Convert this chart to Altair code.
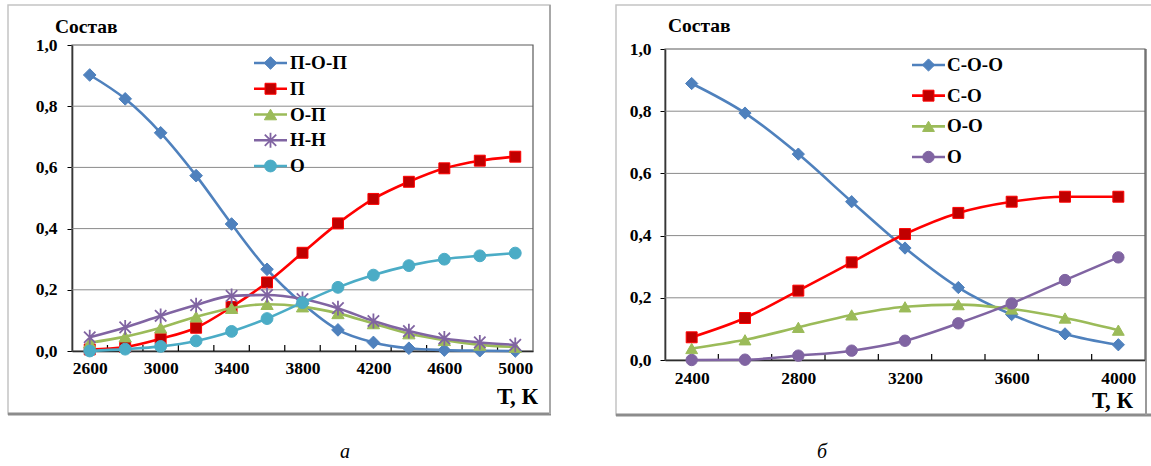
import altair as alt
import pandas as pd

SERIF = "Liberation Serif"
W, H = 1151, 466

# ---------------- panel а ----------------
T_a = [2600, 2800, 3000, 3200, 3400, 3600, 3800, 4000, 4200, 4400, 4600, 4800, 5000]
names_a = ["П-О-П", "П", "О-П", "Н-Н", "О"]
pop_a = [0.902, 0.824, 0.713, 0.573, 0.415, 0.267, 0.155, 0.069, 0.028, 0.009, 0.003, 0.001, 0.0]
p_a = [0.005, 0.013, 0.040, 0.076, 0.144, 0.224, 0.321, 0.417, 0.497, 0.553, 0.597, 0.622, 0.635]
op_a = [0.027, 0.047, 0.076, 0.112, 0.140, 0.153, 0.145, 0.123, 0.090, 0.057, 0.035, 0.020, 0.013]
nn_a = [0.045, 0.077, 0.115, 0.150, 0.180, 0.183, 0.170, 0.140, 0.098, 0.065, 0.041, 0.028, 0.020]
o_a = [0.0, 0.006, 0.015, 0.033, 0.064, 0.106, 0.158, 0.208, 0.248, 0.279, 0.300, 0.311, 0.320]
xlabels_a = [2600, 3000, 3400, 3800, 4200, 4600, 5000]
bounds_a = [2700, 2900, 3100, 3300, 3500, 3700, 3900, 4100, 4300, 4500, 4700, 4900]
xdom_a = [2500, 5100]

# ---------------- panel б ----------------
T_b = [2400, 2600, 2800, 3000, 3200, 3400, 3600, 3800, 4000]
names_b = ["С-О-О", "С-О", "О-О", "О "]
coo_b = [0.889, 0.794, 0.662, 0.509, 0.360, 0.233, 0.146, 0.084, 0.049]
co_b = [0.073, 0.135, 0.223, 0.314, 0.405, 0.473, 0.509, 0.525, 0.525]
oo_b = [0.037, 0.065, 0.105, 0.145, 0.171, 0.178, 0.164, 0.135, 0.096]
o_b = [0.0, 0.001, 0.014, 0.030, 0.062, 0.118, 0.182, 0.257, 0.330]
xlabels_b = [2400, 2800, 3200, 3600, 4000]
bounds_b = [2500, 2700, 2900, 3100, 3300, 3500, 3700, 3900]
xdom_b = [2300, 4100]

y_ticks = [0.0, 0.2, 0.4, 0.6, 0.8, 1.0]
grid_vals = [0.2, 0.4, 0.6, 0.8]

BLUE = "#4F81BD"
RED = "#FF0000"
DRED = "#C00000"
GREEN = "#9BBB59"
PURPLE = "#8064A2"
CYAN = "#4BACC6"
STAR = "M-1,-1L1,1M-1,1L1,-1M0,-1.3L0,1.3"

styles = {
    "П-О-П": dict(line=BLUE, shape="diamond", fill=BLUE, stroke=BLUE, size=160, filled=True),
    "П": dict(line=RED, shape="square", fill=DRED, stroke=RED, size=120, filled=True),
    "О-П": dict(line=GREEN, shape="triangle-up", fill=GREEN, stroke=GREEN, size=150, filled=True),
    "Н-Н": dict(line=PURPLE, shape=STAR, fill=PURPLE, stroke=PURPLE, size=130, filled=False),
    "О": dict(line=CYAN, shape="circle", fill=CYAN, stroke=CYAN, size=140, filled=True),
    "С-О-О": dict(line=BLUE, shape="diamond", fill=BLUE, stroke=BLUE, size=150, filled=True),
    "С-О": dict(line=RED, shape="square", fill=DRED, stroke=RED, size=120, filled=True),
    "О-О": dict(line=GREEN, shape="triangle-up", fill=GREEN, stroke=GREEN, size=140, filled=True),
    "О ": dict(line=PURPLE, shape="circle", fill=PURPLE, stroke=PURPLE, size=130, filled=True),
}

TICK_FS = 17.5
LEG_FS = 19


def point_mark(st):
    if st["filled"]:
        return alt.Chart().mark_point(shape=st["shape"], size=st["size"], filled=True,
                                      fill=st["fill"], stroke=st["stroke"], strokeWidth=1,
                                      opacity=1)
    return alt.Chart().mark_point(shape=st["shape"], size=st["size"], filled=False,
                                  stroke=st["stroke"], strokeWidth=1.8, opacity=1)


def panel(T, series, xdom, xr, yr, xvals, bnds, xoff, yoff, xlabpad, ylabpad):
    xs = alt.Scale(domain=xdom, range=xr, nice=False, zero=False)
    ys = alt.Scale(domain=[0, 1], range=yr, nice=False, zero=True)
    xa = alt.Axis(orient="bottom", offset=xoff, values=xvals, format="d", ticks=False,
                  grid=False, domainColor="black", domainWidth=1.5, labelFont=SERIF,
                  labelFontSize=TICK_FS, labelFontWeight="bold", labelColor="black",
                  labelPadding=xlabpad, labelFlush=False, labelOverlap=False, title=None)
    ya = alt.Axis(orient="left", offset=yoff, values=y_ticks,
                  labelExpr="replace(format(datum.value, '.1f'), '.', ',')",
                  ticks=True, tickSize=5, tickColor="black", grid=False,
                  domainColor="black", domainWidth=1.5, labelFont=SERIF,
                  labelFontSize=TICK_FS, labelFontWeight="bold", labelColor="black",
                  labelPadding=ylabpad, labelFlush=False, labelOverlap=False, title=None)

    def X(f):
        return alt.X(f, type="quantitative", scale=xs, axis=xa)

    def Y(f):
        return alt.Y(f, type="quantitative", scale=ys, axis=ya)

    layers = []
    grid_df = pd.DataFrame({"v": grid_vals, "x0": xdom[0], "x1": xdom[1]})
    layers.append(alt.Chart(grid_df).mark_rule(color="#8a8a8a", strokeWidth=1)
                  .encode(x=X("x0"), x2="x1", y=Y("v")))
    border_df = pd.DataFrame({"x0": [xdom[0]], "x1": [xdom[1]], "y0": [0.0], "y1": [1.0]})
    layers.append(alt.Chart(border_df).mark_rect(fill="transparent", stroke="#5a5a5a",
                                                  strokeWidth=1.2)
                  .encode(x=X("x0"), x2="x1", y=Y("y0"), y2="y1"))
    tick_df = pd.DataFrame({"b": bnds, "z": 0.0})
    layers.append(alt.Chart(tick_df).mark_tick(orient="vertical", size=6, thickness=1.2,
                                                yOffset=-3, color="black", opacity=1)
                  .encode(x=X("b"), y=Y("z")))
    for name, vals in series:
        st = styles[name]
        df = pd.DataFrame({"T": T, "v": vals})
        layers.append(alt.Chart(df).mark_line(color=st["line"], strokeWidth=2.6,
                                              interpolate="monotone")
                      .encode(x=X("T"), y=Y("v")))
        pm = point_mark(st)
        pm.data = df
        layers.append(pm.encode(x=X("T"), y=Y("v")))
    return alt.layer(*layers)


def legend(names, xl0, xl1, xt, yrange):
    ys = alt.Scale(type="point", domain=names, range=yrange, padding=0)
    Yl = alt.Y("name:N", scale=ys, axis=None)
    layers = []
    for name in names:
        st = styles[name]
        df = pd.DataFrame({"name": [name], "label": [name.strip()]})
        layers.append(alt.Chart(df).mark_rule(color=st["line"], strokeWidth=2.6)
                      .encode(x=alt.value(xl0), x2=alt.value(xl1), y=Yl))
        pm = point_mark(st)
        pm.data = df
        layers.append(pm.encode(x=alt.value((xl0 + xl1) / 2), y=Yl))
        layers.append(alt.Chart(df).mark_text(align="left", baseline="middle", font=SERIF,
                                              fontSize=LEG_FS, fontWeight="bold",
                                              color="black")
                      .encode(x=alt.value(xt), y=Yl, text="label:N"))
    return alt.layer(*layers)


base = alt.Chart(pd.DataFrame({"k": [0]}))
deco = alt.layer(
    base.mark_rect(fill="transparent", stroke="#c4c4c4", strokeWidth=1.5)
        .encode(x=alt.value(8), x2=alt.value(550), y=alt.value(5), y2=alt.value(414)),
    base.mark_rule(color="#8c8c8c", strokeWidth=3)
        .encode(x=alt.value(8), x2=alt.value(551), y=alt.value(414)),
    base.mark_rule(color="#a8a8a8", strokeWidth=2)
        .encode(x=alt.value(550), y=alt.value(5), y2=alt.value(414)),
    base.mark_rect(fill="transparent", stroke="#c4c4c4", strokeWidth=1.5)
        .encode(x=alt.value(616), x2=alt.value(1170), y=alt.value(5), y2=alt.value(415)),
    base.mark_rule(color="#8c8c8c", strokeWidth=3)
        .encode(x=alt.value(616), x2=alt.value(1151), y=alt.value(415)),
    base.mark_rule(color="#9a9a9a", strokeWidth=2)
        .encode(x=alt.value(1146), y=alt.value(49), y2=alt.value(415)),
)

texts = alt.layer(
    base.mark_text(align="left", baseline="alphabetic", font=SERIF, fontSize=19.5,
                   fontWeight="bold", color="black")
        .encode(x=alt.value(55), y=alt.value(33), text=alt.value("Состав")),
    base.mark_text(align="left", baseline="alphabetic", font=SERIF, fontSize=19.5,
                   fontWeight="bold", color="black")
        .encode(x=alt.value(668), y=alt.value(32), text=alt.value("Состав")),
    base.mark_text(align="left", baseline="alphabetic", font=SERIF, fontSize=23,
                   fontWeight="bold", color="black")
        .encode(x=alt.value(497), y=alt.value(404), text=alt.value("Т, К")),
    base.mark_text(align="left", baseline="alphabetic", font=SERIF, fontSize=23,
                   fontWeight="bold", color="black")
        .encode(x=alt.value(1092), y=alt.value(408), text=alt.value("Т, К")),
    base.mark_text(align="center", baseline="alphabetic", font=SERIF, fontSize=20,
                   fontStyle="italic", color="black")
        .encode(x=alt.value(345), y=alt.value(458), text=alt.value("а")),
    base.mark_text(align="center", baseline="alphabetic", font=SERIF, fontSize=20,
                   fontStyle="italic", color="black")
        .encode(x=alt.value(822), y=alt.value(458), text=alt.value("б")),
)

series_a = list(zip(names_a, [pop_a, p_a, op_a, nn_a, o_a]))
series_b = list(zip(names_b, [coo_b, co_b, oo_b, o_b]))

panel_a = panel(T_a, series_a, xdom_a, [72, 533], [351, 45], xlabels_a, bounds_a,
                351 - H, -72, 8, 10)
panel_b = panel(T_b, series_b, xdom_b, [665, 1145], [360, 49], xlabels_b, bounds_b,
                360 - H, -665, 9, 9)
leg_a = legend(names_a, 254, 287, 290, [63, 166])
leg_b = legend(names_b, 912, 945, 947, [65, 157])

chart = (
    alt.layer(deco, panel_a, panel_b, leg_a, leg_b, texts)
    .resolve_scale(x="independent", y="independent")
    .properties(width=W, height=H, padding=0, background="white",
                autosize=alt.AutoSizeParams(type="none"))
    .configure_view(stroke=None)
)

chart.save("out.html", embed_options={"renderer": "svg", "actions": False})
